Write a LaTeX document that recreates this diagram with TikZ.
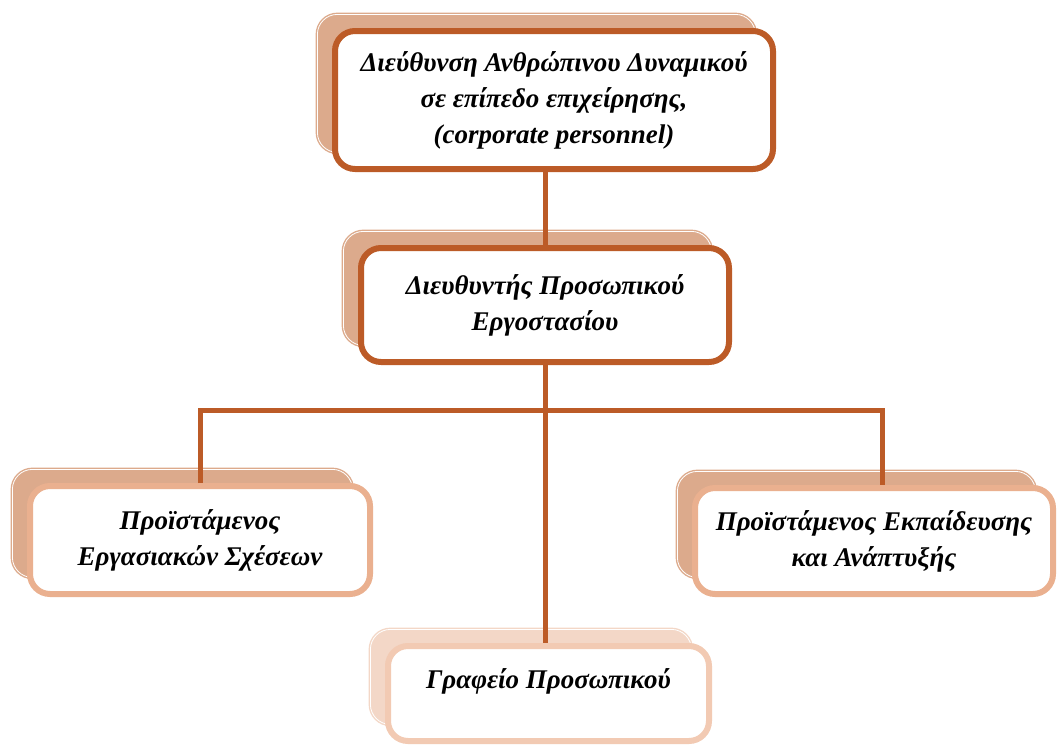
\documentclass[tikz,border=0pt]{standalone}
\usepackage{fontspec}
\setmainfont{Liberation Serif}
\usepackage{xcolor}
\usetikzlibrary{positioning,shadows}
\definecolor{rust}{HTML}{BC5B27}
\definecolor{peach}{HTML}{EAB08F}
\definecolor{blush}{HTML}{F2CAB3}
\definecolor{shadetan}{HTML}{DCAA8C}
\definecolor{shadepale}{HTML}{F3D7C7}

\begin{document}
\begin{tikzpicture}[x=0.5pt,y=-0.5pt,
  font=\fontsize{13.5}{18}\selectfont\bfseries\itshape,
  unitbox/.style={fill=white,rounded corners=10pt,line width=3pt,align=center,inner sep=0pt,
    general shadow={fill=#1,draw=#1,double=white,double distance=0.4pt,line width=0.7pt,
                    shadow xshift=-8.8pt,shadow yshift=8.3pt}},
  headbox/.style={unitbox=shadetan,draw=rust},
  subbox/.style={unitbox=shadetan,draw=peach},
  officebox/.style={unitbox=shadepale,draw=blush},
  link/.style={draw=rust,line width=2.5pt}]

  \useasboundingbox (0,0) rectangle (1057,746);

  \node[headbox,minimum width=219pt,minimum height=69pt] (hrm) at (554,100)
    {Διεύθυνση Ανθρώπινου Δυναμικού\\ σε επίπεδο επιχείρησης,\\ (corporate personnel)};
  \node[headbox,minimum width=184pt,minimum height=57pt] (plant) at (545,305)
    {Διευθυντής Προσωπικού\\ Εργοστασίου};
  \node[subbox,minimum width=170pt,minimum height=54pt] (labour) at (200,540)
    {Προϊστάμενος\\ Εργασιακών Σχέσεων};
  \node[subbox,minimum width=179pt,minimum height=53pt] (training) at (874,541)
    {Προϊστάμενος Εκπαίδευσης\\ και Ανάπτυξής};
  \node[officebox,minimum width=160.5pt,minimum height=47.5pt] (office) at (548.5,693.5)
    {Γραφείο Προσωπικού\\[-8pt] \strut};

  \coordinate (bar) at (545,410);

  \draw[link] (hrm.south -| plant.north) -- (plant.north);
  \draw[link] (plant.south) -- (plant.south |- office.north);
  \draw[link] (labour.north) |- (bar) -| ([xshift=4pt]training.north);
\end{tikzpicture}
\end{document}
